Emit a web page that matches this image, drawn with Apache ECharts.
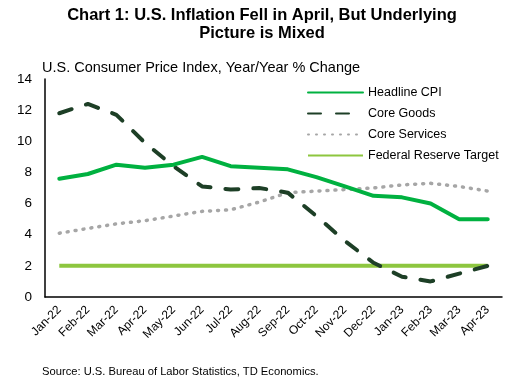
<!DOCTYPE html>
<html><head><meta charset="utf-8">
<script src="https://cdn.jsdelivr.net/npm/echarts@6/dist/echarts.min.js"></script>
<style>html,body{margin:0;padding:0;background:#fff}#c{width:517px;height:385px}</style>
</head><body><div id="c"></div>
<script>
const categories = ['Jan-22','Feb-22','Mar-22','Apr-22','May-22','Jun-22','Jul-22','Aug-22','Sep-22','Oct-22','Nov-22','Dec-22','Jan-23','Feb-23','Mar-23','Apr-23'];
const headlineCPI = [7.6,7.9,8.5,8.3,8.5,9.0,8.4,8.3,8.2,7.7,7.1,6.5,6.4,6.0,5.0,5.0];
const coreGoods = [11.8,12.4,11.7,9.9,8.4,7.1,6.9,7.0,6.7,5.2,3.6,2.2,1.3,1.0,1.5,2.0];
const coreServices = [4.1,4.4,4.7,4.9,5.2,5.5,5.6,6.1,6.7,6.8,6.9,7.0,7.2,7.3,7.1,6.8];
const fedTarget = [2,2,2,2,2,2,2,2,2,2,2,2,2,2,2,2];
const yTicks = [0,2,4,6,8,10,12,14];

const chart = echarts.init(document.getElementById('c'));
const font = 'Liberation Sans, Arial, sans-serif';
chart.setOption({
  animation: false,
  textStyle: {fontFamily: font},
  title: [{
    text: 'Chart 1: U.S. Inflation Fell in April, But Underlying\nPicture is Mixed',
    left: 262, top: 6, textAlign: 'center', padding: 0,
    textStyle: {fontSize: 16.5, fontWeight: 'bold', color: '#000', lineHeight: 18, fontFamily: font}
  },{
    text: 'U.S. Consumer Price Index, Year/Year % Change',
    left: 42, top: 60, padding: 0,
    textStyle: {fontSize: 14.5, fontWeight: 'normal', color: '#000', fontFamily: font}
  },{
    text: 'Source: U.S. Bureau of Labor Statistics, TD Economics.',
    left: 42, top: 366, padding: 0,
    textStyle: {fontSize: 11.2, fontWeight: 'normal', color: '#000', fontFamily: font}
  }],
  legend: {
    orient: 'vertical', left: 307, top: 86, padding: 0, itemGap: 8, itemWidth: 55, itemHeight: 12,
    itemStyle: {opacity: 0},
    textStyle: {fontSize: 12.5, color: '#000', fontFamily: font, padding: [0,0,0,0]},
    data: ['Headline CPI','Core Goods','Core Services','Federal Reserve Target']
  },
  grid: {left: 45, right: 15, top: 79, bottom: 88},
  xAxis: {
    type: 'category', data: categories, boundaryGap: true,
    axisLine: {lineStyle: {color: '#000', width: 1.5}},
    axisTick: {show: false},
    axisLabel: {rotate: 45, fontSize: 12, color: '#000', margin: 11, interval: 0}
  },
  yAxis: {
    type: 'value', min: yTicks[0], max: yTicks[yTicks.length-1], interval: 2,
    axisLine: {show: true, lineStyle: {color: '#000', width: 1.5}},
    axisTick: {show: false},
    splitLine: {show: false},
    axisLabel: {fontSize: 13.5, color: '#000', margin: 13}
  },
  series: [
    {name: 'Federal Reserve Target', type: 'line', data: fedTarget, symbol: 'none', z: 1,
     lineStyle: {color: '#8DC63F', width: 4}, itemStyle: {color: '#8DC63F'}},
    {name: 'Core Services', type: 'line', data: coreServices, symbol: 'none', z: 2,
     lineStyle: {color: '#A6A6A6', width: 3.5, type: [1, 7], cap: 'round'}, itemStyle: {color: '#A6A6A6'}},
    {name: 'Core Goods', type: 'line', data: coreGoods, symbol: 'none', z: 3,
     lineStyle: {color: '#1D3F26', width: 4, type: [13, 15], cap: 'round'}, itemStyle: {color: '#1D3F26'}},
    {name: 'Headline CPI', type: 'line', data: headlineCPI, symbol: 'none', z: 4,
     lineStyle: {color: '#00B140', width: 4, cap: 'round'}, itemStyle: {color: '#00B140'}}
  ]
});
</script></body></html>
